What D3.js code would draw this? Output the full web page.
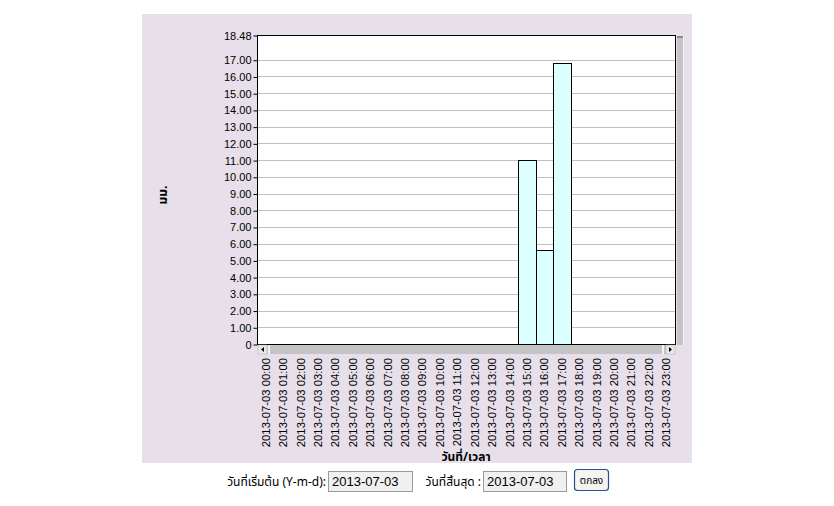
<!DOCTYPE html>
<html><head><meta charset="utf-8">
<script src="https://cdn.jsdelivr.net/npm/d3@7"></script>
<style>
body{margin:0;background:#fff;font-family:"Liberation Sans",Arial,sans-serif;}
svg{display:block;}
</style></head><body>
<svg id="c" width="834" height="506"></svg>
<script>
const hours = ["00:00","01:00","02:00","03:00","04:00","05:00","06:00","07:00","08:00","09:00","10:00","11:00","12:00","13:00","14:00","15:00","16:00","17:00","18:00","19:00","20:00","21:00","22:00","23:00"];
const datePrefix = "2013-07-03";
const categories = hours.map(h => datePrefix + " " + h);
const values = [0,0,0,0,0,0,0,0,0,0,0,0,0,0,0,11.0,5.6,16.8,0,0,0,0,0,0];
const yTicks = [0,1,2,3,4,5,6,7,8,9,10,11,12,13,14,15,16,17,18.48];
const yMax = 18.48;
const yTitle = "มม.";
const xTitle = "วันที่/เวลา";
const startLabel = "วันที่เริ่มต้น (Y-m-d):";
const endLabel = "วันที่สิ้นสุด :";
const startDate = "2013-07-03";
const endDate = "2013-07-03";
const buttonLabel = "ตกลง";

const svg = d3.select("#c");
const thaiFont = "Tahoma,'Noto Sans Thai','Noto Sans','Loma',sans-serif";
// panel
svg.append("rect").attr("x",142).attr("y",14).attr("width",550).attr("height",449).attr("fill","#e7dfe9");

const L=257, R=675, T=35, B=344;
const x = d3.scaleBand().domain(categories).range([L,R]).padding(0);
const y = d3.scaleLinear().domain([0,yMax]).range([B,T]);

svg.append("rect").attr("x",L).attr("y",T).attr("width",R-L).attr("height",B-T).attr("fill","#fff");

// grid
svg.append("g").selectAll("line").data(yTicks.filter(d=>d>0 && d<yMax)).join("line")
  .attr("x1",L).attr("x2",R).attr("y1",d=>Math.round(y(d))+0.5).attr("y2",d=>Math.round(y(d))+0.5)
  .attr("stroke","#c0c0c0").attr("stroke-width",1);

// bars
svg.append("g").selectAll("rect").data(categories.map((c,i)=>({c,v:values[i]})).filter(d=>d.v>0)).join("rect")
  .attr("x",d=>Math.round(x(d.c))+0.5).attr("y",d=>Math.round(y(d.v))+0.5)
  .attr("width",d=>Math.round(x(d.c)+x.bandwidth())-Math.round(x(d.c)))
  .attr("height",d=>Math.round(B)-Math.round(y(d.v)))
  .attr("fill","#dcffff").attr("stroke","#000").attr("stroke-width",1);

// frame
svg.append("rect").attr("x",L+0.5).attr("y",T+0.5).attr("width",R-L).attr("height",B-T)
  .attr("fill","none").attr("stroke","#000").attr("stroke-width",1);

// y axis
const yAxis = d3.axisLeft(y).tickValues(yTicks).tickSize(4).tickPadding(2)
  .tickFormat(d=> d===0 ? "0" : d3.format(".2f")(d));
const ga = svg.append("g").attr("transform",`translate(${L+0.5},0.5)`).call(yAxis);
ga.select(".domain").remove();
ga.selectAll("line").attr("stroke","#000");
ga.selectAll("text").attr("font-size",11).attr("font-family","'Liberation Sans',Arial,sans-serif").attr("fill","#000");

// horizontal scrollbar
svg.append("rect").attr("x",L+1).attr("y",B+1).attr("width",R-L-1).attr("height",9).attr("fill","#c4c4c4");
svg.append("rect").attr("x",L+1).attr("y",B+1).attr("width",9).attr("height",9).attr("fill","#e8e8e8").attr("stroke","#aaa").attr("stroke-width",0.5);
svg.append("rect").attr("x",R-9).attr("y",B+1).attr("width",9).attr("height",9).attr("fill","#e8e8e8").attr("stroke","#aaa").attr("stroke-width",0.5);
svg.append("rect").attr("x",L+11).attr("y",B+1).attr("width",2).attr("height",9).attr("fill","#f4f4f4");
svg.append("rect").attr("x",R-13).attr("y",B+1).attr("width",2).attr("height",9).attr("fill","#f4f4f4");
svg.append("path").attr("d",`M${L+7},${B+3}L${L+4},${B+5.5}L${L+7},${B+8}Z`).attr("fill","#000");
svg.append("path").attr("d",`M${R-6},${B+3}L${R-3},${B+5.5}L${R-6},${B+8}Z`).attr("fill","#000");
// vertical scrollbar
svg.append("rect").attr("x",R+2).attr("y",T+1).attr("width",6).attr("height",B-T).attr("fill","#c4c4c4");
svg.append("rect").attr("x",R+2).attr("y",T+1).attr("width",6).attr("height",2).attr("fill","#888");
svg.append("rect").attr("x",R+8).attr("y",T+1).attr("width",1).attr("height",B-T).attr("fill","#f4f4f4");

// x labels
svg.append("g").selectAll("text").data(categories).join("text")
  .attr("transform",d=>`translate(${x(d)+x.bandwidth()/2+4},358) rotate(-90)`)
  .attr("text-anchor","end").attr("font-size",11.3).attr("fill","#000")
  .attr("font-family","'Liberation Sans',Arial,sans-serif").text(d=>d);

// titles
svg.append("text").attr("transform","translate(167,195) rotate(-90)").attr("text-anchor","middle")
  .attr("font-size",12).attr("font-weight","bold").attr("font-family",thaiFont).text(yTitle);
svg.append("text").attr("x",466).attr("y",461).attr("text-anchor","middle")
  .attr("font-size",12).attr("font-weight","bold").attr("font-family",thaiFont).text(xTitle);

// form
const fz=12;
svg.append("text").attr("x",326).attr("y",486).attr("text-anchor","end").attr("font-size",fz).attr("font-family",thaiFont).text(startLabel);
svg.append("rect").attr("x",328.5).attr("y",471.5).attr("width",84).attr("height",20).attr("fill","#f0f0f0").attr("stroke","#9a9a9a");
svg.append("text").attr("x",332).attr("y",486).attr("font-size",13).attr("font-family","'Liberation Sans',Arial,sans-serif").text(startDate);
svg.append("text").attr("x",481).attr("y",486).attr("text-anchor","end").attr("font-size",fz).attr("font-family",thaiFont).text(endLabel);
svg.append("rect").attr("x",483.5).attr("y",471.5).attr("width",83).attr("height",20).attr("fill","#f0f0f0").attr("stroke","#9a9a9a");
svg.append("text").attr("x",487).attr("y",486).attr("font-size",13).attr("font-family","'Liberation Sans',Arial,sans-serif").text(endDate);
svg.append("rect").attr("x",574.5).attr("y",469.5).attr("width",34).attr("height",21).attr("rx",3).attr("fill","#f4f4f0").attr("stroke","#2a4f8f").attr("stroke-width",1.2);
svg.append("text").attr("x",591.5).attr("y",483.5).attr("text-anchor","middle").attr("font-size",10).attr("font-family",thaiFont).text(buttonLabel);
</script>
</body></html>
